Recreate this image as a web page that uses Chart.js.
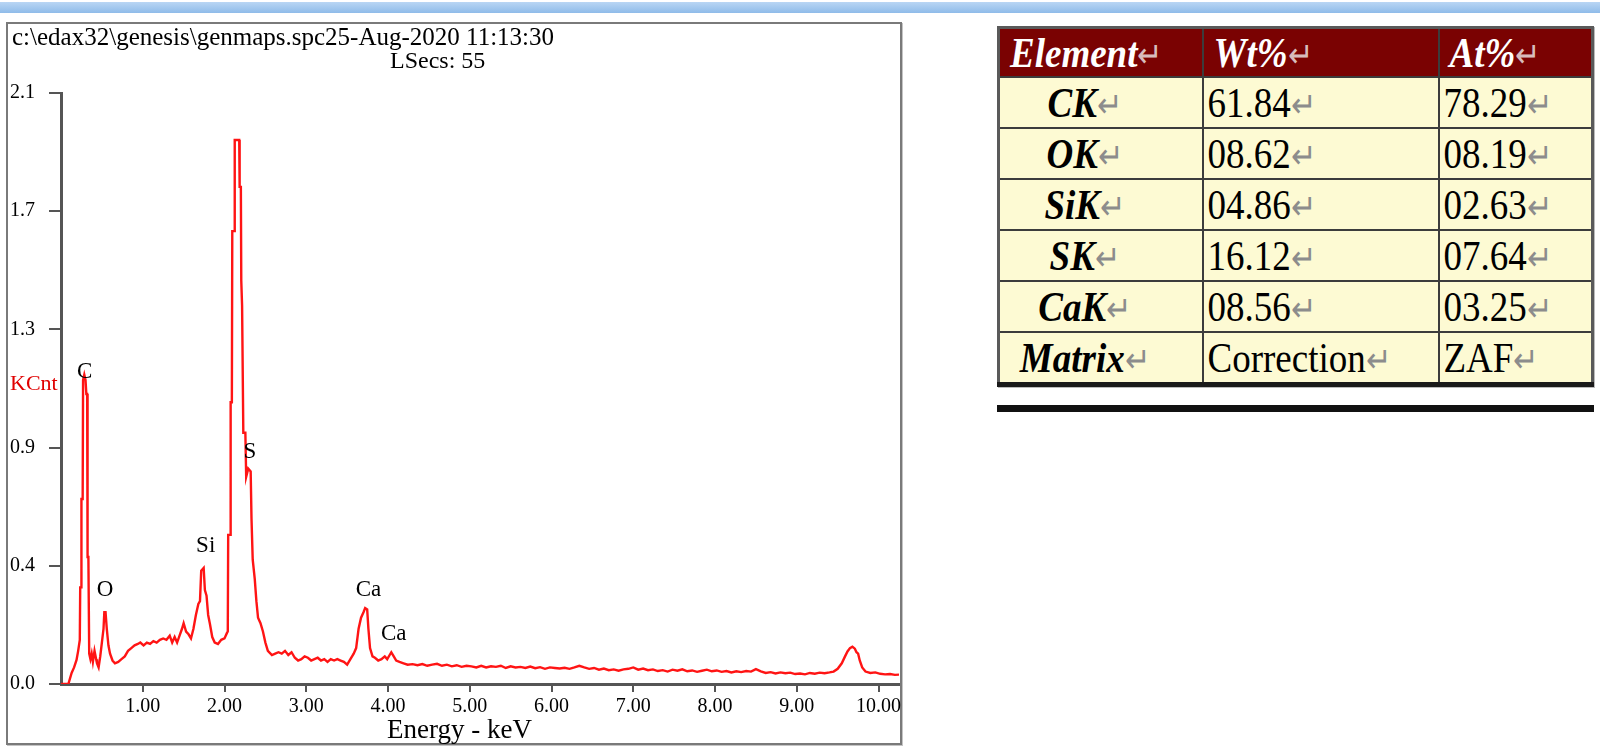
<!DOCTYPE html>
<html>
<head>
  <script src="https://cdn.jsdelivr.net/npm/chart.js"></script>
  <style>
    body { margin: 0; width: 1600px; height: 749px; background: #fff; position: relative; overflow: hidden;
           font-family: "Liberation Serif", "Times New Roman", serif; }
    .topbar { position: absolute; left: 0; top: 2px; width: 1600px; height: 11px;
              background: linear-gradient(#b9d6f4, #8fbbe9); }
    .frame { position: absolute; left: 6px; top: 22px; width: 892px; height: 719px;
             border: 2px solid #7a7a7a; box-shadow: 1px 1px 0 #c4c4c4; }
    #spectrum { position: absolute; left: 0; top: 0; }
    .txt { position: absolute; white-space: nowrap; color: #000; line-height: 1; }
    #spec-table { position: absolute; left: 997px; top: 26px; width: 594px; border-collapse: collapse; table-layout: fixed;
                  border: 3px solid #5a5a5a; box-shadow: 1px 1px 0 #bbb; border-bottom: 5px solid #1a1a1a; }
    #spec-table td, #spec-table th { border: 2px solid #3c3c3c; height: 49px; padding: 0 4px;
                  font-size: 37px; text-align: left; white-space: nowrap; overflow: hidden; }
    #spec-table th { background: #7a0202; color: #fff; font-style: italic; font-weight: bold; padding-left: 10px; height: 47px; }
    #spec-table td { background: #fdfad3; }
    #spec-table td.el { font-weight: bold; font-style: italic; text-align: center; padding-right: 36px; }
    .t { display: inline-block; transform: scaleY(1.15); }
    .ret { color: #8c8c8c; font-size: 30px; font-style: normal; font-weight: normal; }
    th .ret { color: #d8bcbc; }
    .rule { position: absolute; left: 997px; top: 405px; width: 597px; height: 7px; background: #111; }
  </style>
</head>
<body>
  <div class="topbar"></div>
  <div class="frame"></div>
  <canvas id="spectrum" width="910" height="749"></canvas>

  <div class="txt" style="left:12px; top:24px; font-size:25px;">c:\edax32\genesis\genmaps.spc25-Aug-2020 11:13:30</div>
  <div class="txt" style="left:390px; top:48px; font-size:24px;">LSecs: 55</div>
  <div class="txt" style="left:10px; top:372px; font-size:22px; color:#e00000;">KCnt</div>
  <div class="txt" style="left:387px; top:716px; font-size:27px;">Energy - keV</div>

  <table id="spec-table">
    <colgroup><col style="width:204px"><col style="width:236px"><col style="width:154px"></colgroup>
  </table>
  <div class="rule"></div>

  <script>
    // spectrum (energy in keV, intensity in KCnt)
    var energyKeV = [0.00, 0.09, 0.13, 0.16, 0.19, 0.21, 0.23, 0.235, 0.245, 0.25, 0.265, 0.27, 0.285, 0.30, 0.31, 0.32,
      0.325, 0.335, 0.345, 0.36, 0.375, 0.39, 0.41, 0.43, 0.44, 0.46, 0.48, 0.50, 0.52, 0.53, 0.545, 0.56, 0.58, 0.60,
      0.63, 0.66, 0.70, 0.74, 0.78, 0.82, 0.86, 0.90, 0.94, 0.97, 1.01, 1.05, 1.09, 1.13, 1.17, 1.21, 1.25, 1.29, 1.33,
      1.36, 1.39, 1.42, 1.45, 1.48, 1.50, 1.53, 1.56, 1.59, 1.62, 1.65, 1.68, 1.70, 1.715, 1.745, 1.76, 1.78, 1.80, 1.82,
      1.85, 1.88, 1.92, 1.96, 2.00, 2.03, 2.04, 2.045, 2.07, 2.075, 2.09, 2.095, 2.12, 2.125, 2.18, 2.185, 2.20, 2.205,
      2.215, 2.225, 2.23, 2.255, 2.265, 2.29, 2.32, 2.33, 2.345, 2.37, 2.39, 2.41, 2.44, 2.47, 2.50, 2.53, 2.58, 2.62,
      2.66, 2.70, 2.74, 2.78, 2.82, 2.86, 2.90, 2.94, 2.98, 3.02, 3.06, 3.10, 3.14, 3.18, 3.22, 3.26, 3.30, 3.34, 3.38,
      3.42, 3.46, 3.50, 3.54, 3.58, 3.61, 3.64, 3.67, 3.70, 3.72, 3.745, 3.76, 3.78, 3.81, 3.84, 3.88, 3.92, 3.96, 3.99,
      4.02, 4.04, 4.07, 4.10, 4.14, 4.19, 4.24, 4.30, 4.36, 4.42, 4.48, 4.54, 4.60, 4.66, 4.72, 4.78, 4.84, 4.90, 4.96,
      5.02, 5.08, 5.14, 5.20, 5.26, 5.32, 5.38, 5.44, 5.50, 5.56, 5.62, 5.68, 5.74, 5.80, 5.86, 5.92, 5.98, 6.04, 6.10,
      6.16, 6.22, 6.28, 6.34, 6.40, 6.46, 6.52, 6.58, 6.64, 6.70, 6.76, 6.82, 6.88, 6.94, 7.00, 7.06, 7.12, 7.18, 7.24,
      7.30, 7.36, 7.42, 7.48, 7.54, 7.60, 7.66, 7.72, 7.78, 7.84, 7.90, 7.96, 8.02, 8.08, 8.14, 8.20, 8.26, 8.32, 8.38,
      8.44, 8.50, 8.56, 8.62, 8.68, 8.74, 8.80, 8.86, 8.92, 8.98, 9.04, 9.10, 9.16, 9.22, 9.28, 9.34, 9.40, 9.45, 9.50,
      9.55, 9.59, 9.62, 9.65, 9.68, 9.71, 9.73, 9.75, 9.77, 9.80, 9.84, 9.90, 9.96, 10.02, 10.08, 10.14, 10.20, 10.25];
    var countsKCnt = [0.000, 0.000, 0.040, 0.060, 0.087, 0.120, 0.160, 0.350, 0.350, 0.670, 0.670, 1.100, 1.120, 1.100, 1.050, 1.050,
      0.460, 0.460, 0.110, 0.090, 0.110, 0.080, 0.120, 0.090, 0.075, 0.060, 0.100, 0.150, 0.200, 0.260, 0.260, 0.200, 0.140, 0.110,
      0.085, 0.075, 0.080, 0.090, 0.100, 0.120, 0.130, 0.140, 0.145, 0.150, 0.140, 0.150, 0.145, 0.155, 0.150, 0.160, 0.165, 0.160, 0.175,
      0.150, 0.170, 0.150, 0.175, 0.200, 0.220, 0.190, 0.180, 0.165, 0.200, 0.250, 0.290, 0.300, 0.410, 0.420, 0.340, 0.320, 0.250, 0.220,
      0.170, 0.150, 0.145, 0.160, 0.165, 0.185, 0.190, 0.540, 0.540, 1.020, 1.020, 1.640, 1.640, 1.970, 1.970, 1.800, 1.800, 1.460,
      1.370, 1.370, 0.910, 0.910, 0.750, 0.780, 0.770, 0.600, 0.450, 0.380, 0.300, 0.240, 0.220, 0.190, 0.150, 0.120, 0.105, 0.110,
      0.115, 0.110, 0.120, 0.105, 0.115, 0.095, 0.085, 0.090, 0.100, 0.095, 0.085, 0.090, 0.095, 0.085, 0.090, 0.080, 0.090, 0.085, 0.090,
      0.085, 0.080, 0.070, 0.090, 0.110, 0.130, 0.200, 0.240, 0.260, 0.275, 0.270, 0.200, 0.130, 0.100, 0.095, 0.085, 0.090, 0.100, 0.090,
      0.105, 0.115, 0.100, 0.085, 0.080, 0.075, 0.070, 0.072, 0.068, 0.072, 0.066, 0.070, 0.073, 0.066, 0.070, 0.064, 0.068, 0.062, 0.066,
      0.064, 0.060, 0.066, 0.060, 0.064, 0.062, 0.066, 0.058, 0.064, 0.060, 0.062, 0.058, 0.063, 0.057, 0.061, 0.055, 0.060, 0.058, 0.056,
      0.059, 0.055, 0.060, 0.066, 0.060, 0.055, 0.058, 0.052, 0.056, 0.050, 0.053, 0.048, 0.053, 0.055, 0.060, 0.052, 0.056, 0.050, 0.053,
      0.047, 0.050, 0.045, 0.052, 0.048, 0.053, 0.046, 0.049, 0.044, 0.048, 0.052, 0.046, 0.049, 0.044, 0.047, 0.042, 0.046, 0.043, 0.047,
      0.045, 0.054, 0.046, 0.040, 0.043, 0.038, 0.042, 0.039, 0.041, 0.036, 0.038, 0.035, 0.040, 0.037, 0.041, 0.039, 0.042, 0.045, 0.055,
      0.075, 0.100, 0.118, 0.130, 0.135, 0.128, 0.115, 0.110, 0.085, 0.060, 0.045, 0.040, 0.042, 0.037, 0.035, 0.036, 0.033, 0.034];

    // axis ticks
    var xTickValues = [1, 2, 3, 4, 5, 6, 7, 8, 9, 10];
    var xTickLabels = ['1.00', '2.00', '3.00', '4.00', '5.00', '6.00', '7.00', '8.00', '9.00', '10.00'];
    var yTickValues = [0, 0.428, 0.856, 1.284, 1.712, 2.14];
    var yTickLabels = ['0.0', '0.4', '0.9', '1.3', '1.7', '2.1'];

    // peak labels (element, energy, height where the label sits)
    var peakNames = ['C', 'O', 'Si', 'S', 'Ca', 'Ca'];
    var peakEnergy = [0.29, 0.54, 1.77, 2.31, 3.76, 4.07];
    var peakLabelAt = [1.13, 0.34, 0.50, 0.84, 0.34, 0.18];

    // element quantification table
    var tableHeaders = ['Element', 'Wt%', 'At%'];
    var elementNames = ['CK', 'OK', 'SiK', 'SK', 'CaK', 'Matrix'];
    var wtPercent = ['61.84', '08.62', '04.86', '16.12', '08.56', 'Correction'];
    var atPercent = ['78.29', '08.19', '02.63', '07.64', '03.25', 'ZAF'];

    function cell(text) {
      return '<span class="t">' + text + '<span class="ret">\u21B5</span></span>';
    }
    var table = document.getElementById('spec-table');
    var html = '<tr>' + tableHeaders.map(function(h) { return '<th>' + cell(h) + '</th>'; }).join('') + '</tr>';
    for (var i = 0; i < elementNames.length; i++) {
      html += '<tr><td class="el">' + cell(elementNames[i]) + '</td><td>' + cell(wtPercent[i]) +
              '</td><td>' + cell(atPercent[i]) + '</td></tr>';
    }
    table.insertAdjacentHTML('beforeend', html);

    var points = energyKeV.map(function(e, i) { return { x: e, y: countsKCnt[i] }; });

    var peakLabelPlugin = {
      id: 'peakLabels',
      afterDatasetsDraw: function(chart) {
        var ctx = chart.ctx;
        var xs = chart.scales.x, ys = chart.scales.y;
        ctx.save();
        ctx.font = '23px "Liberation Serif", serif';
        ctx.fillStyle = '#000';
        ctx.textAlign = 'center';
        ctx.textBaseline = 'middle';
        for (var i = 0; i < peakNames.length; i++) {
          ctx.fillText(peakNames[i], xs.getPixelForValue(peakEnergy[i]), ys.getPixelForValue(peakLabelAt[i]));
        }
        ctx.restore();
      }
    };

    var axisFont = { family: '"Liberation Serif", serif', size: 20 };

    new Chart(document.getElementById('spectrum'), {
      type: 'line',
      data: {
        datasets: [{
          data: points,
          borderColor: '#ff1414',
          borderWidth: 2.4,
          pointRadius: 0,
          tension: 0,
          fill: false
        }]
      },
      options: {
        responsive: false,
        animation: false,
        layout: { padding: { left: 10, top: 93, right: 11, bottom: 0 } },
        plugins: { legend: { display: false }, tooltip: { enabled: false } },
        scales: {
          x: {
            type: 'linear',
            min: 0,
            max: 10.25,
            afterBuildTicks: function(scale) { scale.ticks = xTickValues.map(function(v) { return { value: v }; }); },
            afterFit: function(scale) { scale.height = 65; },
            ticks: {
              autoSkip: false, maxRotation: 0, padding: 3, color: '#000', font: axisFont,
              callback: function(v, idx) { return xTickLabels[idx]; }
            },
            grid: { drawOnChartArea: false, drawTicks: true, tickLength: 8, color: '#555', lineWidth: 2 },
            border: { display: true, color: '#555', width: 3 }
          },
          y: {
            min: 0,
            max: 2.14,
            afterBuildTicks: function(scale) { scale.ticks = yTickValues.map(function(v) { return { value: v }; }); },
            afterFit: function(scale) { scale.width = 51; },
            ticks: {
              crossAlign: 'far', color: '#000', font: axisFont,
              callback: function(v, idx) { return yTickLabels[idx]; }
            },
            grid: { drawOnChartArea: false, drawTicks: true, tickLength: 12, color: '#555', lineWidth: 2 },
            border: { display: true, color: '#555', width: 3 }
          }
        }
      },
      plugins: [peakLabelPlugin]
    });
  </script>
</body>
</html>
